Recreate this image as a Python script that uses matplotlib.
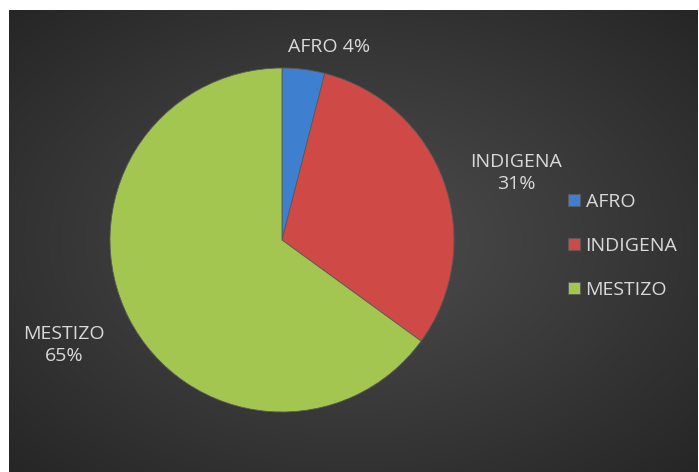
import numpy as np
import matplotlib.pyplot as plt
from matplotlib.colors import LinearSegmentedColormap

categories = ["AFRO", "INDIGENA", "MESTIZO"]
percents = [4, 31, 65]
colors = ["#3f7fd0", "#cf4a46", "#a3c651"]

W, H = 699, 472
fig = plt.figure(figsize=(W / 100, H / 100), dpi=100)
fig.patch.set_facecolor("white")
plt.rcParams['font.family'] = ['Open Sans', 'DejaVu Sans']

# dark panel with radial gradient
bg = fig.add_axes([9 / W, 0, 689 / W, 462 / H])
yy, xx = np.mgrid[-1:1:300j, -1:1:450j]
r = np.sqrt(xx ** 2 + yy ** 2) / np.sqrt(2)
cmap = LinearSegmentedColormap.from_list("bg", ["#4d4d4d", "#3a3a3a", "#262626"])
bg.imshow(r, cmap=cmap, aspect="auto", extent=[0, 1, 0, 1])
bg.set_axis_off()

# pie
cx, cy, rad = 282, 240, 172
ax = fig.add_axes([(cx - rad) / W, (H - cy - rad) / H, 2 * rad / W, 2 * rad / H])
wedges, _ = ax.pie(percents, colors=colors, startangle=90, counterclock=False,
                   radius=1, wedgeprops=dict(edgecolor="#5a5a5a", linewidth=0.6))
ax.set_xlim(-1, 1)
ax.set_ylim(-1, 1)
ax.set_axis_off()

txt = dict(color="#d9d9d9", fontsize=14, ha="center", va="center")
fig.text(329 / W, 1 - 47 / H, "%s %d%%" % (categories[0], percents[0]), **txt)
fig.text(516 / W, 1 - 173 / H, "%s\n%d%%" % (categories[1], percents[1]), linespacing=1.35, **txt)
fig.text(64 / W, 1 - 345 / H, "%s\n%d%%" % (categories[2], percents[2]), linespacing=1.35, **txt)

leg = fig.legend(wedges, categories, loc="upper left", bbox_to_anchor=(568 / W, 1 - 193 / H),
                 frameon=False, fontsize=14, labelcolor="#d9d9d9", borderpad=0, borderaxespad=0,
                 handlelength=0.6, handleheight=0.6, handletextpad=0.3, labelspacing=1.33)

fig.savefig("out.png", dpi=100)
